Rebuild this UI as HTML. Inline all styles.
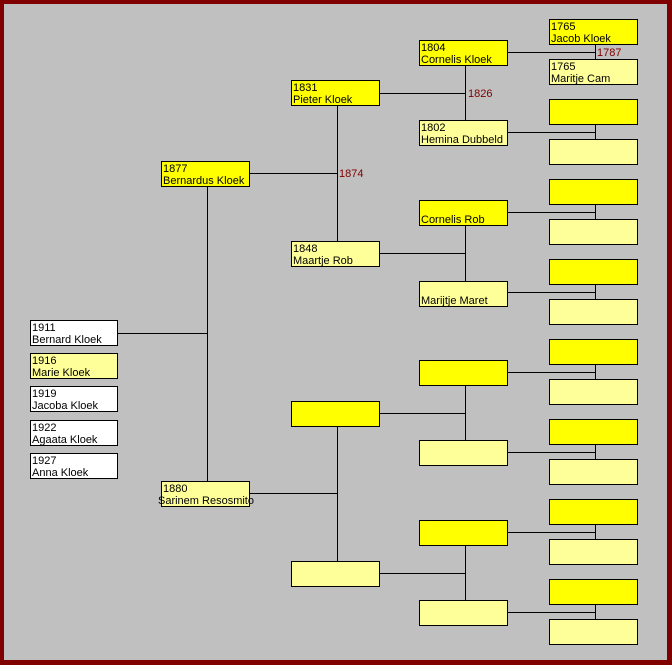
<!DOCTYPE html>
<html><head><meta charset="utf-8"><style>
html,body{margin:0;padding:0;background:#800000;}
svg{display:block;}
text{font-family:"Liberation Sans",sans-serif;font-size:11px;fill:#000;}
.r{fill:#800000;}
</style></head><body>
<svg width="672" height="665" viewBox="0 0 672 665" xmlns="http://www.w3.org/2000/svg">
<rect x="0" y="0" width="672" height="665" fill="#800000"/>
<rect x="4" y="4" width="663" height="656" fill="#c0c0c0"/>
<g stroke="#000" stroke-width="1" fill="none" shape-rendering="crispEdges">
<!-- gen1 to gen2 -->
<line x1="117" y1="333.5" x2="207" y2="333.5"/>
<line x1="207.5" y1="186" x2="207.5" y2="481"/>
<!-- gen2 to gen3 -->
<line x1="249" y1="173.5" x2="337" y2="173.5"/>
<line x1="337.5" y1="106" x2="337.5" y2="241"/>
<line x1="249" y1="493.5" x2="337" y2="493.5"/>
<line x1="337.5" y1="426" x2="337.5" y2="561"/>
<!-- gen3 to gen4 -->
<line x1="379" y1="93.5" x2="465" y2="93.5"/>
<line x1="465.5" y1="65" x2="465.5" y2="120"/>
<line x1="379" y1="253.5" x2="465" y2="253.5"/>
<line x1="465.5" y1="225" x2="465.5" y2="281"/>
<line x1="379" y1="413.5" x2="465" y2="413.5"/>
<line x1="465.5" y1="385" x2="465.5" y2="440"/>
<line x1="379" y1="573.5" x2="465" y2="573.5"/>
<line x1="465.5" y1="545" x2="465.5" y2="600"/>
<!-- gen4 to gen5 -->
<line x1="508" y1="52.5" x2="595" y2="52.5"/><line x1="595.5" y1="44" x2="595.5" y2="59"/>
<line x1="508" y1="132.5" x2="595" y2="132.5"/><line x1="595.5" y1="124" x2="595.5" y2="139"/>
<line x1="508" y1="212.5" x2="595" y2="212.5"/><line x1="595.5" y1="204" x2="595.5" y2="219"/>
<line x1="508" y1="292.5" x2="595" y2="292.5"/><line x1="595.5" y1="284" x2="595.5" y2="299"/>
<line x1="508" y1="372.5" x2="595" y2="372.5"/><line x1="595.5" y1="364" x2="595.5" y2="379"/>
<line x1="508" y1="452.5" x2="595" y2="452.5"/><line x1="595.5" y1="444" x2="595.5" y2="459"/>
<line x1="508" y1="532.5" x2="595" y2="532.5"/><line x1="595.5" y1="524" x2="595.5" y2="539"/>
<line x1="508" y1="612.5" x2="595" y2="612.5"/><line x1="595.5" y1="604" x2="595.5" y2="619"/>
</g>
<g stroke="#000" stroke-width="1" shape-rendering="crispEdges">
<!-- gen1 -->
<rect x="30.5" y="320.5" width="87" height="25" fill="#fff"/>
<rect x="30.5" y="353.5" width="87" height="25" fill="#ffff99"/>
<rect x="30.5" y="386.5" width="87" height="25" fill="#fff"/>
<rect x="30.5" y="420.5" width="87" height="25" fill="#fff"/>
<rect x="30.5" y="453.5" width="87" height="25" fill="#fff"/>
<!-- gen2 -->
<rect x="161.5" y="161.5" width="88" height="25" fill="#ffff00"/>
<rect x="161.5" y="481.5" width="88" height="25" fill="#ffff99"/>
<!-- gen3 -->
<rect x="291.5" y="80.5" width="88" height="25" fill="#ffff00"/>
<rect x="291.5" y="241.5" width="88" height="25" fill="#ffff99"/>
<rect x="291.5" y="401.5" width="88" height="25" fill="#ffff00"/>
<rect x="291.5" y="561.5" width="88" height="25" fill="#ffff99"/>
<!-- gen4 -->
<rect x="419.5" y="40.5" width="88" height="25" fill="#ffff00"/>
<rect x="419.5" y="120.5" width="88" height="25" fill="#ffff99"/>
<rect x="419.5" y="200.5" width="88" height="25" fill="#ffff00"/>
<rect x="419.5" y="281.5" width="88" height="25" fill="#ffff99"/>
<rect x="419.5" y="360.5" width="88" height="25" fill="#ffff00"/>
<rect x="419.5" y="440.5" width="88" height="25" fill="#ffff99"/>
<rect x="419.5" y="520.5" width="88" height="25" fill="#ffff00"/>
<rect x="419.5" y="600.5" width="88" height="25" fill="#ffff99"/>
<!-- gen5 -->
<rect x="549.5" y="19.5" width="88" height="25" fill="#ffff00"/>
<rect x="549.5" y="59.5" width="88" height="25" fill="#ffff99"/>
<rect x="549.5" y="99.5" width="88" height="25" fill="#ffff00"/>
<rect x="549.5" y="139.5" width="88" height="25" fill="#ffff99"/>
<rect x="549.5" y="179.5" width="88" height="25" fill="#ffff00"/>
<rect x="549.5" y="219.5" width="88" height="25" fill="#ffff99"/>
<rect x="549.5" y="259.5" width="88" height="25" fill="#ffff00"/>
<rect x="549.5" y="299.5" width="88" height="25" fill="#ffff99"/>
<rect x="549.5" y="339.5" width="88" height="25" fill="#ffff00"/>
<rect x="549.5" y="379.5" width="88" height="25" fill="#ffff99"/>
<rect x="549.5" y="419.5" width="88" height="25" fill="#ffff00"/>
<rect x="549.5" y="459.5" width="88" height="25" fill="#ffff99"/>
<rect x="549.5" y="499.5" width="88" height="25" fill="#ffff00"/>
<rect x="549.5" y="539.5" width="88" height="25" fill="#ffff99"/>
<rect x="549.5" y="579.5" width="88" height="25" fill="#ffff00"/>
<rect x="549.5" y="619.5" width="88" height="25" fill="#ffff99"/>
</g>
<!-- texts -->
<text x="32" y="331">1911</text><text x="32" y="343">Bernard Kloek</text>
<text x="32" y="364">1916</text><text x="32" y="376">Marie Kloek</text>
<text x="32" y="397">1919</text><text x="32" y="409">Jacoba Kloek</text>
<text x="32" y="431">1922</text><text x="32" y="443">Agaata Kloek</text>
<text x="32" y="464">1927</text><text x="32" y="476">Anna Kloek</text>
<text x="163" y="172">1877</text><text x="163" y="184">Bernardus Kloek</text>
<text x="163" y="492">1880</text><text x="158" y="504">Sarinem  Resosmito</text>
<text x="293" y="91">1831</text><text x="293" y="103">Pieter Kloek</text>
<text x="293" y="252">1848</text><text x="293" y="264">Maartje Rob</text>
<text x="421" y="51">1804</text><text x="421" y="63">Cornelis Kloek</text>
<text x="421" y="131">1802</text><text x="421" y="143">Hemina Dubbeld</text>
<text x="421" y="223">Cornelis Rob</text>
<text x="421" y="304">Marijtje Maret</text>
<text x="551" y="30">1765</text><text x="551" y="42">Jacob Kloek</text>
<text x="551" y="70">1765</text><text x="551" y="82">Maritje Cam</text>
<text class="r" x="339" y="177">1874</text>
<text class="r" x="468" y="97">1826</text>
<text class="r" x="597" y="56">1787</text>
</svg>
</body></html>
